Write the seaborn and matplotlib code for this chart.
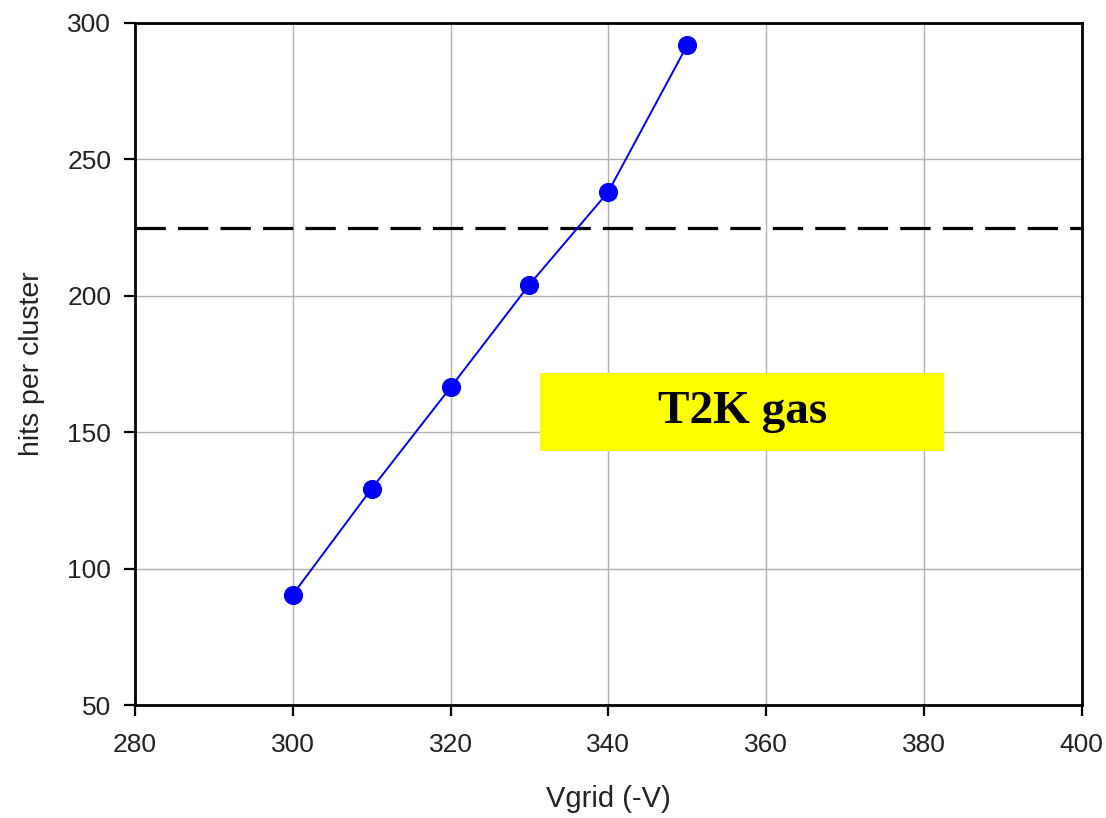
import matplotlib
matplotlib.use("Agg")
import matplotlib.pyplot as plt
import seaborn as sns
import pandas as pd
from matplotlib.patches import Rectangle

# Grid voltage scan, T2K gas
vgrid = [300, 310, 320, 330, 340, 350]
hits_per_cluster = [90.5, 129.3, 166.4, 204.1, 238.1, 291.8]
threshold = 225

x_ticks = [280, 300, 320, 340, 360, 380, 400]
y_ticks = [50, 100, 150, 200, 250, 300]

df = pd.DataFrame({"Vgrid": vgrid, "hits": hits_per_cluster})

sns.set_theme(style="whitegrid")
plt.rcParams["font.family"] = ["Liberation Sans", "DejaVu Sans"]

fig = plt.figure(figsize=(11.06, 8.18), dpi=100)
ax = fig.add_axes([0.122, 0.138, 0.856, 0.834])

sns.lineplot(data=df, x="Vgrid", y="hits", ax=ax, color="#0000ff",
             linewidth=1.4, marker="o", markersize=13,
             markeredgecolor="#0000ff", zorder=3)

ax.axhline(threshold, color="black", linewidth=2.3,
           dashes=(9.5, 3.8), zorder=2)

ax.set_xlim(280, 400)
ax.set_ylim(50, 300)
ax.set_xticks(x_ticks)
ax.set_yticks(y_ticks)

ax.grid(True, color="#b0b0b0", linewidth=1.0)
for side in ["left", "right", "top", "bottom"]:
    ax.spines[side].set_visible(True)
    ax.spines[side].set_color("black")
    ax.spines[side].set_linewidth(2.0)

ax.tick_params(axis="both", which="major", direction="out", length=8,
               width=1.6, color="black", labelsize=19, labelcolor="#222222",
               bottom=True, left=True)
ax.tick_params(axis="x", pad=12)
ax.tick_params(axis="y", pad=9)

ax.set_xlabel("Vgrid (-V)", fontsize=21, color="#222222", labelpad=20)
ax.set_ylabel("hits per cluster", fontsize=20.5, color="#222222", labelpad=16)

# Label box
ax.add_patch(Rectangle((0.428, 0.372), 0.427, 0.115, transform=ax.transAxes,
                       facecolor="#ffff00", edgecolor="none", zorder=4))
ax.text(0.6415, 0.4295, "T2K gas", transform=ax.transAxes,
        ha="center", va="center", fontsize=34, fontweight="bold",
        family=["Liberation Serif", "DejaVu Serif"], color="black", zorder=5)

fig.savefig("out.png", dpi=100)
